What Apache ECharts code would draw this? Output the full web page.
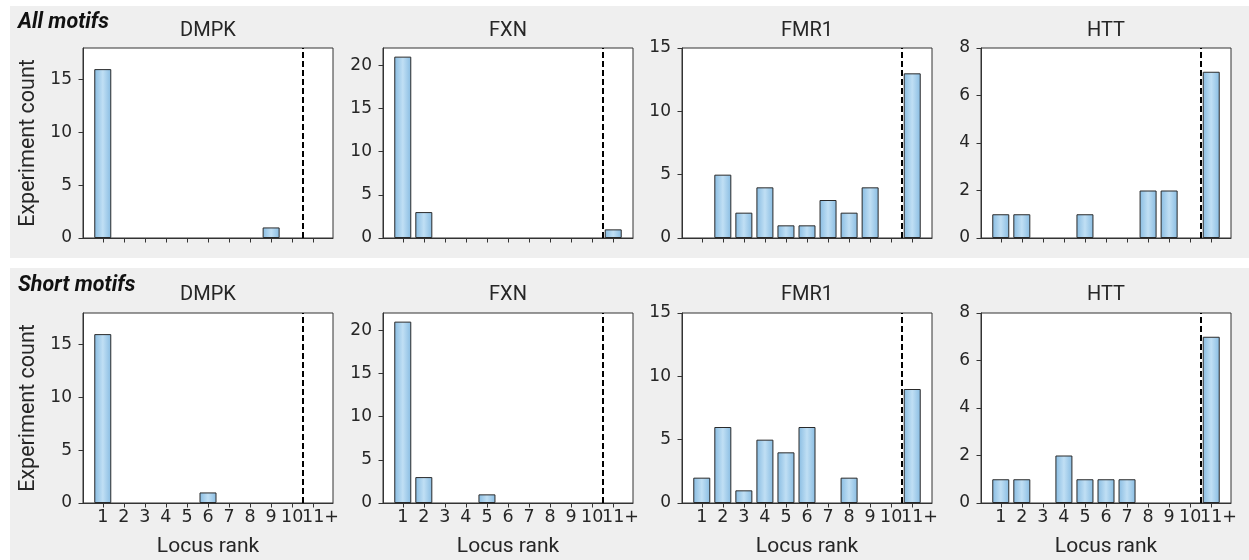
<!DOCTYPE html>
<html><head><meta charset="utf-8">
<script src="https://cdn.jsdelivr.net/npm/echarts@6/dist/echarts.min.js"></script>
<style>html,body{margin:0;padding:0;background:#fff}#c{width:1249px;height:560px}</style>
</head><body><div id="c"></div>
<script>
// ---- data ----
const genes = ['DMPK', 'FXN', 'FMR1', 'HTT'];
const rowLabels = ['All motifs', 'Short motifs'];
const xLabels = ['1', '2', '3', '4', '5', '6', '7', '8', '9', '10', '11+'];
const xPositions = [1, 2, 3, 4, 5, 6, 7, 8, 9, 10, 11];
const allDMPK = [16, 0, 0, 0, 0, 0, 0, 0, 1, 0, 0];
const allFXN = [21, 3, 0, 0, 0, 0, 0, 0, 0, 0, 1];
const allFMR1 = [0, 5, 2, 4, 1, 1, 3, 2, 4, 0, 13];
const allHTT = [1, 1, 0, 0, 1, 0, 0, 2, 2, 0, 7];
const shortDMPK = [16, 0, 0, 0, 0, 1, 0, 0, 0, 0, 0];
const shortFXN = [21, 3, 0, 0, 1, 0, 0, 0, 0, 0, 0];
const shortFMR1 = [2, 6, 1, 5, 4, 6, 0, 2, 0, 0, 9];
const shortHTT = [1, 1, 0, 2, 1, 1, 1, 0, 0, 0, 7];
const yMax = [18, 22, 15, 8];
const yTicks = [[0, 5, 10, 15], [0, 5, 10, 15, 20], [0, 5, 10, 15], [0, 2, 4, 6, 8]];
const cutoff = 10.5;
const yName = 'Experiment count';
const xName = 'Locus rank';

const rows = [[allDMPK, allFXN, allFMR1, allHTT], [shortDMPK, shortFXN, shortFMR1, shortHTT]];

// ---- layout ----
const colLeft = [83, 383, 682, 981];
const panelW = 250;
const rowTop = [48, 313];
const panelH = 190;
const xMin = 0.06, xMax = 11.94;
const tickFont = 'DejaVu Sans';
const textFont = 'Roboto';
const ink = '#262626';
const xTickSize = 17.5;
// the "11+" label is placed so that its "11" part is centred on the tick
const lastShift = (0.636 * xTickSize) / (panelW / (xMax - xMin));

const grid = [], xAxis = [], yAxis = [], series = [];
const barFill = {
  type: 'linear', x: 0, y: 0, x2: 1, y2: 0,
  colorStops: [
    { offset: 0, color: '#88bce2' },
    { offset: 0.5, color: '#c0dff4' },
    { offset: 1, color: '#88bce2' }
  ]
};
const lastPos = xPositions[xPositions.length - 1];
const labelFor = v => xLabels[xPositions.indexOf(Math.round(v))];

let g = 0;
for (let r = 0; r < 2; r++) {
  for (let c = 0; c < 4; c++) {
    grid.push({
      left: colLeft[c], top: rowTop[r], width: panelW, height: panelH,
      show: true, backgroundColor: '#ffffff', borderColor: '#333', borderWidth: 1
    });
    const mainX = xAxis.length;
    xAxis.push({
      type: 'value', gridIndex: g, min: xMin, max: xMax, position: 'bottom',
      splitLine: { show: false },
      axisLine: { show: true, onZero: false, lineStyle: { color: '#333', width: 1 } },
      axisTick: { show: true, length: 4.5, customValues: xPositions, lineStyle: { color: '#333' } },
      axisLabel: {
        show: r === 1, customValues: xPositions.slice(0, -1), margin: 5,
        showMinLabel: true, showMaxLabel: true, formatter: labelFor,
        fontFamily: tickFont, fontSize: xTickSize, color: ink
      },
      name: r === 1 ? xName : '', nameLocation: 'middle', nameGap: 33,
      nameTextStyle: { fontFamily: textFont, fontSize: 21, color: ink }
    });
    if (r === 1) {
      // separate axis for the last ("11+") label so it is not dropped by overlap handling
      xAxis.push({
        type: 'value', gridIndex: g, min: xMin + lastShift, max: xMax + lastShift, position: 'bottom',
        splitLine: { show: false },
        axisLine: { show: false, onZero: false },
        axisTick: { show: false },
        axisLabel: {
          show: true, customValues: [lastPos], margin: 5, align: 'left',
          showMinLabel: true, showMaxLabel: true, formatter: labelFor,
          fontFamily: tickFont, fontSize: xTickSize, color: ink
        }
      });
    }
    yAxis.push({
      type: 'value', gridIndex: g, min: 0, max: yMax[c],
      splitLine: { show: false },
      axisLine: { show: true, lineStyle: { color: '#333', width: 1 } },
      axisTick: { show: true, length: 4.5, customValues: yTicks[c], lineStyle: { color: '#333' } },
      axisLabel: {
        customValues: yTicks[c], margin: 11, showMinLabel: true, showMaxLabel: true,
        fontFamily: tickFont, fontSize: 17, color: ink
      },
      name: c === 0 ? yName : '', nameLocation: 'middle', nameGap: 43,
      nameTextStyle: { fontFamily: textFont, fontSize: 21.5, color: ink }
    });
    const vals = rows[r][c];
    series.push({
      type: 'bar', xAxisIndex: mainX, yAxisIndex: g,
      barWidth: 17,
      data: vals.map((v, i) => [xPositions[i], v === 0 ? null : v]),
      itemStyle: { color: barFill, borderColor: '#2a2a2a', borderWidth: 1 },
      emphasis: { disabled: true },
      markLine: {
        symbol: 'none', silent: true, animation: false,
        label: { show: false },
        lineStyle: { type: [6, 3], color: '#000', width: 2 },
        data: [{ xAxis: cutoff }]
      }
    });
    g++;
  }
}

const graphicEls = [
  { type: 'rect', z: -100, silent: true, shape: { x: 10, y: 6, width: 1239, height: 252 }, style: { fill: '#efefef' } },
  { type: 'rect', z: -100, silent: true, shape: { x: 10, y: 268, width: 1239, height: 292 }, style: { fill: '#efefef' } },
  { type: 'text', x: 18, y: 23, style: { text: rowLabels[0], font: 'italic bold 21.5px Roboto', fill: '#111', textAlign: 'left', textVerticalAlign: 'middle' } },
  { type: 'text', x: 18, y: 286, style: { text: rowLabels[1], font: 'italic bold 21.5px Roboto', fill: '#111', textAlign: 'left', textVerticalAlign: 'middle' } }
];
const titleY = [31, 295];
for (let r = 0; r < 2; r++) {
  for (let c = 0; c < 4; c++) {
    graphicEls.push({
      type: 'text', x: colLeft[c] + panelW / 2, y: titleY[r],
      style: { text: genes[c], font: '20px Roboto', fill: ink, textAlign: 'center', textVerticalAlign: 'middle' }
    });
  }
}

const chart = echarts.init(document.getElementById('c'), null, { renderer: 'canvas' });
chart.setOption({
  animation: false,
  backgroundColor: '#ffffff',
  grid, xAxis, yAxis, series,
  graphic: { elements: graphicEls }
});
</script>
</body></html>
